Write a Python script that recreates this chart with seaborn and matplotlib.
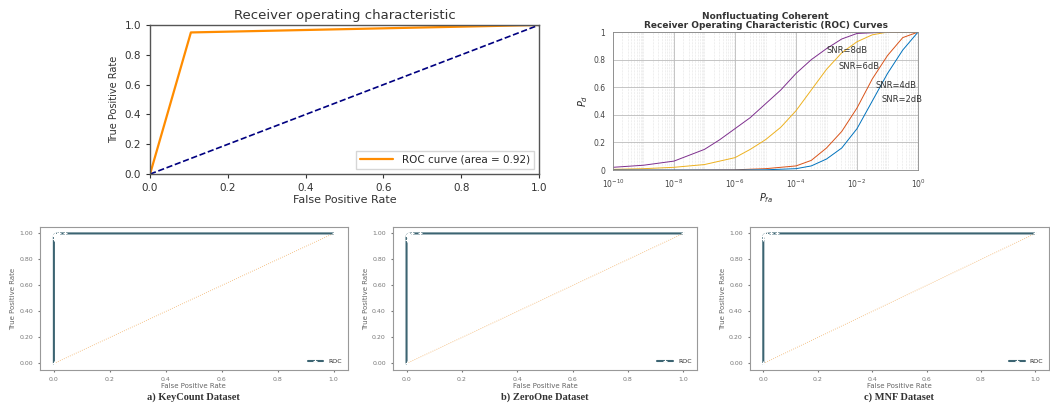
import numpy as np
import matplotlib
matplotlib.use("Agg")
import matplotlib.pyplot as plt
from matplotlib.ticker import LogLocator, NullFormatter
import seaborn as sns

# ---- data ----
# top-left ROC
fpr_main = [0.0, 0.105, 1.0]
tpr_main = [0.0, 0.95, 1.0]
auc_main = 0.92

# top-right: nonfluctuating coherent ROC curves
pfa_8 = [1e-10, 1e-9, 1e-8, 1e-7, 10**-6.5, 1e-6, 10**-5.5, 1e-5, 10**-4.5, 1e-4,
         10**-3.5, 1e-3, 10**-2.5, 1e-2, 1e-1, 1.0]
pd_8 = [0.02, 0.035, 0.065, 0.15, 0.22, 0.30, 0.38, 0.48, 0.58, 0.70,
        0.80, 0.88, 0.95, 0.99, 1.0, 1.0]
pfa_6 = [1e-10, 1e-9, 1e-8, 1e-7, 1e-6, 10**-5.5, 1e-5, 10**-4.5, 1e-4, 10**-3.5,
         1e-3, 10**-2.5, 1e-2, 10**-1.5, 1e-1, 1.0]
pd_6 = [0.005, 0.01, 0.02, 0.04, 0.09, 0.15, 0.22, 0.31, 0.43, 0.58,
        0.73, 0.85, 0.93, 0.98, 1.0, 1.0]
pfa_4 = [1e-10, 1e-8, 1e-6, 1e-5, 1e-4, 10**-3.5, 1e-3, 10**-2.5, 1e-2, 10**-1.5,
         1e-1, 10**-0.5, 1.0]
pd_4 = [0.0, 0.0, 0.002, 0.01, 0.03, 0.07, 0.16, 0.28, 0.45, 0.66,
        0.83, 0.96, 1.0]
pfa_2 = [1e-10, 1e-8, 1e-6, 1e-5, 1e-4, 10**-3.5, 1e-3, 10**-2.5, 1e-2, 10**-1.5,
         1e-1, 10**-0.5, 1.0]
pd_2 = [0.0, 0.0, 0.0, 0.002, 0.01, 0.03, 0.08, 0.16, 0.30, 0.50,
        0.70, 0.87, 1.0]
snr_labels = ["SNR=8dB", "SNR=6dB", "SNR=4dB", "SNR=2dB"]
snr_label_pos = [(10**-3.0, 0.87), (10**-2.6, 0.75), (10**-1.4, 0.61), (10**-1.2, 0.51)]

# bottom: dataset ROC curves
datasets = ["a) KeyCount Dataset", "b) ZeroOne Dataset", "c) MNF Dataset"]
fpr_ds = [
    [0.0, 0.0, 0.0, 0.002, 0.005, 0.01, 0.02, 0.04, 1.0],
    [0.0, 0.0, 0.0, 0.003, 0.006, 0.01, 0.02, 0.05, 1.0],
    [0.0, 0.0, 0.0, 0.003, 0.008, 0.015, 0.03, 0.05, 1.0],
]
tpr_ds = [
    [0.0, 0.96, 0.98, 0.99, 0.995, 0.998, 1.0, 1.0, 1.0],
    [0.0, 0.95, 0.98, 0.99, 0.995, 0.998, 1.0, 1.0, 1.0],
    [0.0, 0.96, 0.98, 0.99, 0.995, 0.998, 1.0, 1.0, 1.0],
]

sns.set_style("white")
plt.rcParams['font.family'] = ['DejaVu Sans']

fig = plt.figure(figsize=(10.5, 4.03), dpi=100)

# ---- top-left ----
ax1 = fig.add_axes([0.1429, 0.568, 0.3705, 0.370])
sns.lineplot(x=fpr_main, y=tpr_main, ax=ax1, color="darkorange", lw=1.6, sort=False,
             estimator=None, label="ROC curve (area = %0.2f)" % auc_main)
sns.lineplot(x=[0, 1], y=[0, 1], ax=ax1, color="navy", lw=1.2, linestyle="--",
             sort=False, estimator=None)
ax1.set_xlim(0, 1.0)
ax1.set_ylim(0, 1.0)
ax1.set_title("Receiver operating characteristic", fontsize=9.5, color="#333333", pad=4)
ax1.set_xlabel("False Positive Rate", fontsize=8, color="#333333", labelpad=1)
ax1.set_ylabel("True Positive Rate", fontsize=7, color="#333333", labelpad=4,
               family="Liberation Sans Narrow")
ax1.tick_params(labelsize=7.5, length=3, width=0.8, colors="#333333", left=True, bottom=True)
for s in ax1.spines.values():
    s.set_color("#555555")
    s.set_linewidth(1.0)
ax1.legend(loc="lower right", fontsize=7.5, handlelength=3.2, frameon=True,
           fancybox=False, edgecolor="#cccccc")

# ---- top-right ----
ax2 = fig.add_axes([0.5838, 0.578, 0.2905, 0.3424])
colors = ["#7E2F8E", "#EDB120", "#D95319", "#0072BD"]
for xs, ys, c in zip([pfa_8, pfa_6, pfa_4, pfa_2], [pd_8, pd_6, pd_4, pd_2], colors):
    sns.lineplot(x=xs, y=ys, ax=ax2, color=c, lw=0.7, sort=False, estimator=None)
ax2.set_xscale("log")
ax2.set_xlim(1e-10, 1)
ax2.set_ylim(0, 1)
ax2.set_xticks([1e-10, 1e-8, 1e-6, 1e-4, 1e-2, 1])
ax2.xaxis.set_minor_locator(LogLocator(base=10, subs=np.arange(1, 10), numticks=100))
ax2.xaxis.set_minor_formatter(NullFormatter())
ax2.set_yticks([0, 0.2, 0.4, 0.6, 0.8, 1])
ax2.set_yticklabels(["0", "0.2", "0.4", "0.6", "0.8", "1"])
ax2.grid(True, which="major", color="#bbbbbb", lw=0.6)
ax2.grid(True, which="minor", axis="x", color="#cccccc", lw=0.4, linestyle=":")
ax2.tick_params(labelsize=5.5, length=2, colors="#444444")
ax2.tick_params(which="minor", length=1)
for s in ax2.spines.values():
    s.set_color("#888888")
    s.set_linewidth(0.6)
for lab, (lx, ly) in zip(snr_labels, snr_label_pos):
    ax2.text(lx, ly, lab, fontsize=6, color="#333333", ha="left", va="center")
ax2.set_title("Nonfluctuating Coherent\nReceiver Operating Characteristic (ROC) Curves",
              fontsize=6.5, fontweight="bold", color="#333333", pad=3, linespacing=0.95)
ax2.set_xlabel("$P_{fa}$", fontsize=7, labelpad=1)
ax2.set_ylabel("$P_d$", fontsize=7, labelpad=2)

# ---- bottom panels ----
positions = [[0.038, 0.0819, 0.293, 0.355],
             [0.374, 0.0819, 0.290, 0.355],
             [0.714, 0.0819, 0.285, 0.355]]
for pos, name, fx, ty in zip(positions, datasets, fpr_ds, tpr_ds):
    ax = fig.add_axes(pos)
    sns.lineplot(x=[0, 1], y=[0, 1], ax=ax, color="#f2b36b", lw=0.6, linestyle=":",
                 marker=".", markersize=2, sort=False, estimator=None)
    sns.lineplot(x=fx, y=ty, ax=ax, color="#3c6472", lw=1.5, marker="+", markersize=3,
                 mew=0.8, sort=False, estimator=None, label="ROC")
    ax.set_xlim(-0.05, 1.05)
    ax.set_ylim(-0.05, 1.05)
    ax.set_xticks([0, 0.2, 0.4, 0.6, 0.8, 1.0])
    ax.set_yticks([0, 0.2, 0.4, 0.6, 0.8, 1.0])
    ax.set_yticklabels(["0.00", "0.20", "0.40", "0.60", "0.80", "1.00"])
    ax.tick_params(labelsize=4.5, length=1.5, colors="#777777", left=True, bottom=True)
    for s in ax.spines.values():
        s.set_color("#999999")
        s.set_linewidth(0.8)
    ax.set_xlabel("False Positive Rate", fontsize=5, color="#666666", labelpad=1)
    ax.set_ylabel("True Positive Rate", fontsize=5, color="#666666", labelpad=2)
    ax.legend(loc="lower right", fontsize=4.5, frameon=False, handlelength=2.5)
    ax.text(0.5, -0.19, name, transform=ax.transAxes, ha="center", va="center",
            fontsize=7.5, fontweight="bold", family="Liberation Serif", color="#333333")

fig.savefig("out.png", dpi=100)
